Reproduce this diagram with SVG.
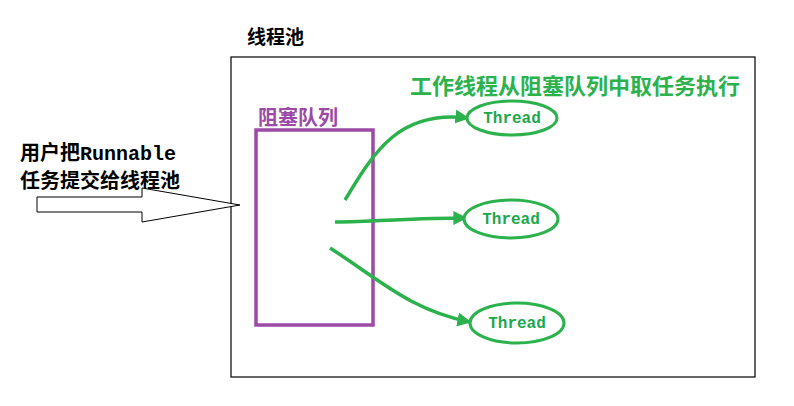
<svg xmlns="http://www.w3.org/2000/svg" width="794" height="406" viewBox="0 0 794 406">
<style>
.t{font-family:"Noto Sans CJK SC","Liberation Sans",sans-serif;font-weight:bold}
.th{font-family:"Liberation Mono",monospace;font-weight:bold;font-size:16px;fill:#1aa84a}
.g{fill:none;stroke:#2bb24c;stroke-width:3.5}
.e{fill:#fff;stroke:#2bb24c;stroke-width:3}
</style>
<defs><marker id="ah" viewBox="0 0 10 10" refX="9" refY="5" markerWidth="4" markerHeight="4" orient="auto"><path d="M0,0L10,5L0,10z" fill="#2bb24c"/></marker></defs>
<rect width="794" height="406" fill="#fff"/>
<g id="pool"><rect x="231" y="57" width="524" height="320" fill="none" stroke="#000" stroke-width="1.2"/>
<text class="t" x="247" y="44" font-size="19">线程池</text></g>
<g id="queue"><rect x="256" y="130" width="117" height="195" fill="none" stroke="#9b4aa6" stroke-width="3.5"/>
<text class="t" x="258" y="125" font-size="20" fill="#9b4aa6">阻塞队列</text></g>
<g id="user"><text class="t" x="20" y="160" font-size="20">用户把<tspan font-family="Liberation Mono,monospace" font-size="20">Runnable</tspan></text>
<text class="t" x="20" y="188" font-size="20">任务提交给线程池</text>
<path d="M37,197H142V188L240,205L142,222V212H37Z" fill="#fff" stroke="#000" stroke-width="1"/></g>
<g id="label"><text class="t" x="410" y="94" font-size="22" fill="#2bb24c">工作线程从阻塞队列中取任务执行</text></g>
<g id="connectors">
<path class="g" d="M345,200C375,150 400,110 468,118" marker-end="url(#ah)"/>
<path class="g" d="M335,222C380,221 420,218 466,218" marker-end="url(#ah)"/>
<path class="g" d="M330,248C380,280 410,310 470,322" marker-end="url(#ah)"/>
</g>
<g id="t1"><ellipse class="e" cx="512" cy="118" rx="45" ry="17"/><text class="th" x="512" y="123" text-anchor="middle">Thread</text></g>
<g id="t2"><ellipse class="e" cx="511" cy="219" rx="47" ry="19"/><text class="th" x="511" y="224" text-anchor="middle">Thread</text></g>
<g id="t3"><ellipse class="e" cx="517" cy="323" rx="47" ry="20"/><text class="th" x="517" y="328" text-anchor="middle">Thread</text></g>
</svg>
